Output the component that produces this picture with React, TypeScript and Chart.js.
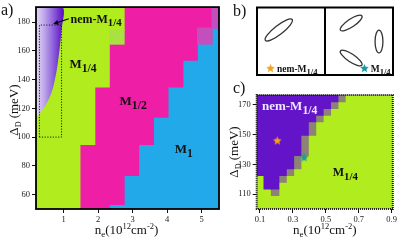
import React, { useEffect, useRef } from 'react';
import { Chart, registerables } from 'chart.js';
Chart.register(...registerables);

const FONT = '"Liberation Serif", "DejaVu Serif", "Times New Roman", serif';

// ---------------- colours ----------------
const GREEN = '#b0ec1e';
const GREEN_MIX = '#a9e141';
const PINK = '#ee1fa6';
const BLUE = '#22a9ea';
const PB_MIX = '#c24fbc';
const NEM_PURPLE = '#6414c8';
const GRAY = '#8c8276';
const ORANGE = '#f6a21c';
const TEAL = '#1a9aa0';

type R = [number, number] | null;

// ---------------- panel a data ----------------
const A_N_RANGE = [0.2, 5.5];
const A_D_RANGE = [50, 190.4];
const A_N_TICKS = [1, 2, 3, 4, 5];
const A_D_TICKS = [60, 80, 100, 120, 140, 160, 180];
const A_COLS = [0.41, 0.84, 1.26, 1.69, 2.11, 2.54, 2.96, 3.39, 3.81, 4.24, 4.66, 5.09, 5.51];
const A_M14: R[] = [[50, 190.4], [50, 190.4], [50, 190.4], [95, 190.4], [134.9, 190.4], [174.4, 190.4], null, null, null, null, null, null, null];
const A_M14_MIX: R[] = [null, null, null, null, null, [164.7, 174.4], null, null, null, null, null, null, null];
const A_M12: R[] = [null, null, null, [50, 95], [50, 134.9], [53.2, 164.7], [73.4, 190.4], [95, 190.4], [113.8, 190.4], [134.9, 190.4], [153.5, 190.4], [175.8, 190.4], null];
const A_M12_M1_MIX: R[] = [null, null, null, null, null, null, null, null, null, null, null, [164.7, 175.8], [175.8, 190.4]];
const A_M1: R[] = [null, null, null, null, null, [50, 53.2], [50, 73.4], [50, 95], [50, 113.8], [50, 134.9], [50, 153.5], [50, 164.7], [50, 175.8]];
// nem-M1/4 region outline
const A_NEM_N = [0.2, 0.97, 0.94, 0.88, 0.8, 0.71, 0.62, 0.48, 0.33, 0.25, 0.2];
const A_NEM_D = [190.4, 190.4, 174.4, 160.5, 146.6, 136.1, 129.1, 122.2, 117.3, 114.6, 115.0];
// zoom box (panel c window)
const A_BOX_N = [0.3, 0.94];
const A_BOX_D = [100, 177.9];
const A_ARROW = { fromN: 1.15, fromD: 182.3, toN: 0.7, toD: 178.7 };
const A_LABELS = [
  { main: 'nem-M', sub: '1/4', n: 1.2, d: 179.5, size: 12 },
  { main: 'M', sub: '1/4', n: 1.17, d: 148, size: 13 },
  { main: 'M', sub: '1/2', n: 2.62, d: 122.3, size: 13 },
  { main: 'M', sub: '1', n: 4.22, d: 88.9, size: 13 },
];

// ---------------- panel b data ----------------
const B_X_RANGE = [0, 2];
const B_Y_RANGE = [0, 1];
// [cx, cy, semi-major, semi-minor (x units), tilt deg]
const B_ELLIPSES = [
  [0.32, 0.667, 0.25, 0.066, 38],
  [1.385, 0.77, 0.19, 0.058, 34],
  [1.794, 0.496, 0.168, 0.058, 90],
  [1.385, 0.252, 0.19, 0.058, -34],
];
const B_STARS = [
  { x: 0.199, y: 0.096, color: ORANGE },
  { x: 1.58, y: 0.096, color: TEAL },
];
const B_LABELS = [
  { main: 'nem-M', sub: '1/4', x: 0.294, y: 0.045 },
  { main: 'M', sub: '1/4', x: 1.672, y: 0.045 },
];

// ---------------- panel c data ----------------
const C_N_RANGE = [0.08, 0.907];
const C_D_RANGE = [100, 176.7];
const C_N_TICKS = [0.1, 0.3, 0.5, 0.7, 0.9];
const C_D_TICKS = [110, 130, 150, 170];
const C_COLS = [0.102, 0.147, 0.192, 0.237, 0.282, 0.326, 0.371, 0.416, 0.461, 0.506, 0.551, 0.595];
const C_NEM: R[] = [[122.6, 176.7], [113.6, 176.7], [113.6, 176.7], [122.6, 176.7], [127.1, 176.7], [136.1, 176.7], [149.7, 176.7], [158.7, 176.7], [163.2, 176.7], [167.7, 176.7], [172.2, 176.7], null];
const C_GRAY: R[] = [null, null, [109.1, 113.6], [118.1, 122.6], [122.6, 127.1], [127.1, 136.1], [136.1, 149.7], [149.7, 158.7], [158.7, 163.2], [163.2, 167.7], [167.7, 172.2], [172.2, 176.7]];
const C_STARS = [
  { n: 0.205, d: 145.8, color: ORANGE },
  { n: 0.368, d: 134.5, color: TEAL },
];
const C_LABELS = [
  { main: 'nem-M', sub: '1/4', n: 0.112, d: 166.6, size: 13, color: '#efe8ff' },
  { main: 'M', sub: '1/4', n: 0.542, d: 122.2, size: 12, color: '#111' },
];

// ---------------- helpers ----------------
type Part = { t: string; size: number; dy?: number; bold?: boolean };

function drawRich(ctx: CanvasRenderingContext2D, parts: Part[], x: number, y: number, align: 'left' | 'center', color: string) {
  ctx.save();
  ctx.fillStyle = color;
  ctx.textAlign = 'left';
  ctx.textBaseline = 'alphabetic';
  let w = 0;
  for (const p of parts) {
    ctx.font = `${p.bold ? 'bold ' : ''}${p.size}px ${FONT}`;
    w += ctx.measureText(p.t).width;
  }
  let cx = align === 'center' ? x - w / 2 : x;
  for (const p of parts) {
    ctx.font = `${p.bold ? 'bold ' : ''}${p.size}px ${FONT}`;
    ctx.fillText(p.t, cx, y + (p.dy || 0));
    cx += ctx.measureText(p.t).width;
  }
  ctx.restore();
}

function phaseLabel(main: string, sub: string, size: number): Part[] {
  return [
    { t: main, size, bold: true },
    { t: sub, size: size * 0.9, bold: true, dy: size * 0.3 },
  ];
}

function yTitle(ctx: CanvasRenderingContext2D, cx: number, cy: number) {
  ctx.save();
  ctx.translate(cx, cy);
  ctx.rotate(-Math.PI / 2);
  drawRich(ctx, [
    { t: 'Δ', size: 13 },
    { t: 'D', size: 8, dy: 3 },
    { t: ' (meV)', size: 13 },
  ], 0, 4, 'center', '#111');
  ctx.restore();
}

function xTitle(ctx: CanvasRenderingContext2D, cx: number, by: number) {
  drawRich(ctx, [
    { t: 'n', size: 13 },
    { t: 'e', size: 9, dy: 3 },
    { t: '(10', size: 13 },
    { t: '12', size: 8.5, dy: -5 },
    { t: 'cm', size: 13 },
    { t: '-2', size: 8.5, dy: -5 },
    { t: ')', size: 13 },
  ], cx, by, 'center', '#111');
}

function makeStar(color: string, r: number) {
  const c = document.createElement('canvas');
  const s = Math.ceil(r * 2 + 2);
  c.width = s;
  c.height = s;
  const g = c.getContext('2d')!;
  g.fillStyle = color;
  g.beginPath();
  for (let i = 0; i < 10; i++) {
    const rad = i % 2 === 0 ? r : r * 0.45;
    const a = -Math.PI / 2 + (i * Math.PI) / 5;
    g.lineTo(s / 2 + rad * Math.cos(a), s / 2 + rad * Math.sin(a));
  }
  g.closePath();
  g.fill();
  return c;
}

function bars(cols: number[], ranges: R[]) {
  const out: { x: number; y: [number, number] }[] = [];
  cols.forEach((x, i) => {
    const r = ranges[i];
    if (r) out.push({ x, y: r });
  });
  return out;
}

function barDs(label: string, cols: number[], ranges: R[], color: string, order: number) {
  return {
    type: 'bar' as const,
    label,
    data: bars(cols, ranges),
    backgroundColor: color,
    borderWidth: 0,
    grouped: false,
    barPercentage: 1,
    categoryPercentage: 1,
    inflateAmount: 0.6,
    order,
  };
}

function axis(range: number[], ticks: number[], isY: boolean, size: number, fmt: (v: number) => string, tickFont: number) {
  return {
    type: 'linear' as const,
    min: range[0],
    max: range[1],
    offset: false,
    afterBuildTicks: (s: any) => {
      s.ticks = ticks.map((v) => ({ value: v }));
    },
    afterFit: (s: any) => {
      if (isY) s.width = size;
      else s.height = size;
    },
    grid: { display: true, drawOnChartArea: false, drawTicks: true, tickLength: 4, color: '#111', lineWidth: 1, offset: false },
    border: { display: false },
    ticks: {
      font: { family: FONT, size: tickFont },
      color: '#222',
      padding: 2,
      autoSkip: false,
      maxRotation: 0,
      callback: (v: any) => fmt(Number(v)),
    },
  };
}

const baseOpts = {
  responsive: false,
  animation: false as const,
  devicePixelRatio: 1,
  events: [] as any[],
  plugins: { legend: { display: false }, tooltip: { enabled: false } },
};

export default function App() {
  const aRef = useRef<HTMLCanvasElement>(null);
  const bRef = useRef<HTMLCanvasElement>(null);
  const cRef = useRef<HTMLCanvasElement>(null);

  useEffect(() => {
    const charts: Chart[] = [];

    // ---------------- panel a ----------------
    const nemPts = A_NEM_N.map((n, i) => ({ x: n, y: A_NEM_D[i] }));
    const boxPts = [
      { x: A_BOX_N[0], y: A_BOX_D[0] },
      { x: A_BOX_N[0], y: A_BOX_D[1] },
      { x: A_BOX_N[1], y: A_BOX_D[1] },
      { x: A_BOX_N[1], y: A_BOX_D[0] },
      { x: A_BOX_N[0], y: A_BOX_D[0] },
    ];
    const plugA = {
      id: 'plugA',
      afterDatasetsDraw(chart: any) {
        const { ctx, chartArea: a, scales } = chart;
        const xs = scales.x, ys = scales.y;
        ctx.save();
        ctx.strokeStyle = '#000';
        ctx.lineWidth = 1.8;
        ctx.strokeRect(a.left, a.top, a.right - a.left, a.bottom - a.top);
        // arrow
        const x0 = xs.getPixelForValue(A_ARROW.fromN), y0 = ys.getPixelForValue(A_ARROW.fromD);
        const x1 = xs.getPixelForValue(A_ARROW.toN), y1 = ys.getPixelForValue(A_ARROW.toD);
        const ang = Math.atan2(y1 - y0, x1 - x0);
        ctx.lineWidth = 1.2;
        ctx.beginPath();
        ctx.moveTo(x0, y0);
        ctx.lineTo(x1 - 3 * Math.cos(ang), y1 - 3 * Math.sin(ang));
        ctx.stroke();
        ctx.fillStyle = '#000';
        ctx.beginPath();
        ctx.moveTo(x1, y1);
        ctx.lineTo(x1 - 5 * Math.cos(ang) + 2.5 * Math.sin(ang), y1 - 5 * Math.sin(ang) - 2.5 * Math.cos(ang));
        ctx.lineTo(x1 - 5 * Math.cos(ang) - 2.5 * Math.sin(ang), y1 - 5 * Math.sin(ang) + 2.5 * Math.cos(ang));
        ctx.closePath();
        ctx.fill();
        ctx.restore();
        for (const l of A_LABELS) {
          drawRich(ctx, phaseLabel(l.main, l.sub, l.size), xs.getPixelForValue(l.n), ys.getPixelForValue(l.d), 'left', '#111');
        }
        yTitle(ctx, 14, (a.top + a.bottom) / 2 + 2);
        xTitle(ctx, (a.left + a.right) / 2 - 1, 234);
        drawRich(ctx, [{ t: 'a)', size: 16 }], 1, 15, 'left', '#111');
      },
    };
    const chartA = new Chart(aRef.current!, {
      type: 'bar',
      data: {
        datasets: [
          {
            type: 'line',
            label: 'box',
            data: boxPts,
            borderColor: '#222',
            borderWidth: 1,
            borderDash: [1.2, 1.5],
            pointRadius: 0,
            fill: false,
            order: 0,
          } as any,
          {
            type: 'line',
            label: 'nem-M1/4',
            data: nemPts,
            borderWidth: 0,
            borderColor: 'rgba(0,0,0,0)',
            pointRadius: 0,
            fill: 'shape',
            tension: 0.3,
            order: 1,
            backgroundColor: (c: any) => {
              const ch = c.chart;
              if (!ch.chartArea || !ch.scales.x) return '#9a7ad8';
              const xs = ch.scales.x;
              const g = ch.ctx.createLinearGradient(xs.getPixelForValue(A_N_RANGE[0]), 0, xs.getPixelForValue(Math.max(...A_NEM_N)), 0);
              g.addColorStop(0, '#e2d8f4');
              g.addColorStop(0.3, '#c0a8ea');
              g.addColorStop(0.65, '#8d60da');
              g.addColorStop(1, '#5e14c6');
              return g;
            },
          } as any,
          barDs('M1/4 mix', A_COLS, A_M14_MIX, GREEN_MIX, 2),
          barDs('M1/2-M1 mix', A_COLS, A_M12_M1_MIX, PB_MIX, 2),
          barDs('M1/4', A_COLS, A_M14, GREEN, 3),
          barDs('M1/2', A_COLS, A_M12, PINK, 3),
          barDs('M1', A_COLS, A_M1, BLUE, 3),
        ],
      },
      options: {
        ...baseOpts,
        layout: { padding: { left: 0, top: 7, right: 180, bottom: 0 } },
        scales: {
          x: axis(A_N_RANGE, A_N_TICKS, false, 32, (v) => String(v), 8.5),
          y: axis(A_D_RANGE, A_D_TICKS, true, 36, (v) => String(v), 8.5),
        },
      } as any,
      plugins: [plugA],
    });
    charts.push(chartA);

    // ---------------- panel b ----------------
    const plugB = {
      id: 'plugB',
      beforeDatasetsDraw(chart: any) {
        const { ctx, scales } = chart;
        const xs = scales.x, ys = scales.y;
        const ppu = xs.getPixelForValue(1) - xs.getPixelForValue(0);
        ctx.save();
        ctx.strokeStyle = '#333';
        ctx.lineWidth = 1.3;
        for (const e of B_ELLIPSES) {
          ctx.beginPath();
          ctx.ellipse(xs.getPixelForValue(e[0]), ys.getPixelForValue(e[1]), e[2] * ppu, e[3] * ppu, (-e[4] * Math.PI) / 180, 0, Math.PI * 2);
          ctx.stroke();
        }
        ctx.restore();
      },
      afterDatasetsDraw(chart: any) {
        const { ctx, chartArea: a, scales } = chart;
        const xs = scales.x, ys = scales.y;
        ctx.save();
        ctx.strokeStyle = '#000';
        ctx.lineWidth = 2;
        ctx.strokeRect(a.left, a.top, a.right - a.left, a.bottom - a.top);
        const mx = xs.getPixelForValue(1);
        ctx.beginPath();
        ctx.moveTo(mx, a.top);
        ctx.lineTo(mx, a.bottom);
        ctx.stroke();
        ctx.restore();
        for (const l of B_LABELS) {
          drawRich(ctx, phaseLabel(l.main, l.sub, 9.5), xs.getPixelForValue(l.x), ys.getPixelForValue(l.y), 'left', '#111');
        }
        drawRich(ctx, [{ t: 'b)', size: 16 }], 233, 16, 'left', '#111');
      },
    };
    const chartB = new Chart(bRef.current!, {
      type: 'scatter',
      data: {
        datasets: B_STARS.map((s) => ({
          label: 'star',
          data: [{ x: s.x, y: s.y }],
          pointStyle: makeStar(s.color, 4.5),
          pointRadius: 5,
        })) as any,
      },
      options: {
        ...baseOpts,
        layout: { padding: { left: 257, top: 7.5, right: 6, bottom: 166 } },
        scales: {
          x: { type: 'linear', min: B_X_RANGE[0], max: B_X_RANGE[1], display: false },
          y: { type: 'linear', min: B_Y_RANGE[0], max: B_Y_RANGE[1], display: false },
        },
      } as any,
      plugins: [plugB],
    });
    charts.push(chartB);

    // ---------------- panel c ----------------
    const plugC = {
      id: 'plugC',
      beforeDatasetsDraw(chart: any) {
        const { ctx, chartArea: a } = chart;
        ctx.save();
        ctx.fillStyle = GREEN;
        ctx.fillRect(a.left, a.top, a.right - a.left, a.bottom - a.top);
        ctx.restore();
      },
      afterDatasetsDraw(chart: any) {
        const { ctx, chartArea: a, scales } = chart;
        const xs = scales.x, ys = scales.y;
        ctx.save();
        ctx.strokeStyle = '#111';
        ctx.lineWidth = 2;
        ctx.setLineDash([1, 1]);
        ctx.strokeRect(a.left, a.top, a.right - a.left, a.bottom - a.top);
        ctx.restore();
        for (const l of C_LABELS) {
          drawRich(ctx, phaseLabel(l.main, l.sub, l.size), xs.getPixelForValue(l.n), ys.getPixelForValue(l.d), 'left', l.color);
        }
        yTitle(ctx, 234, (a.top + a.bottom) / 2);
        xTitle(ctx, (a.left + a.right) / 2, 234);
        drawRich(ctx, [{ t: 'c)', size: 16 }], 233, 93, 'left', '#111');
      },
    };
    const chartC = new Chart(cRef.current!, {
      type: 'bar',
      data: {
        datasets: [
          ...C_STARS.map((s) => ({
            type: 'line',
            label: 'star',
            data: [{ x: s.n, y: s.d }],
            showLine: false,
            pointStyle: makeStar(s.color, 4.5),
            pointRadius: 5,
            order: 0,
          })),
          barDs('nem-M1/4', C_COLS, C_NEM, NEM_PURPLE, 2),
          barDs('boundary', C_COLS, C_GRAY, GRAY, 2),
        ] as any,
      },
      options: {
        ...baseOpts,
        layout: { padding: { left: 220, top: 95, right: 6, bottom: 0 } },
        scales: {
          x: axis(C_N_RANGE, C_N_TICKS, false, 32, (v) => v.toFixed(1), 8.5),
          y: axis(C_D_RANGE, C_D_TICKS, true, 36.7, (v) => String(v), 8.5),
        },
      } as any,
      plugins: [plugC],
    });
    charts.push(chartC);

    return () => charts.forEach((c) => c.destroy());
  }, []);

  const cs: React.CSSProperties = { position: 'absolute', left: 0, top: 0, width: 399, height: 241 };
  return (
    <div style={{ position: 'fixed', left: 0, top: 0, width: 399, height: 241, background: '#fff', overflow: 'hidden' }}>
      <canvas ref={aRef} width={399} height={241} style={cs} />
      <canvas ref={bRef} width={399} height={241} style={cs} />
      <canvas ref={cRef} width={399} height={241} style={cs} />
    </div>
  );
}
